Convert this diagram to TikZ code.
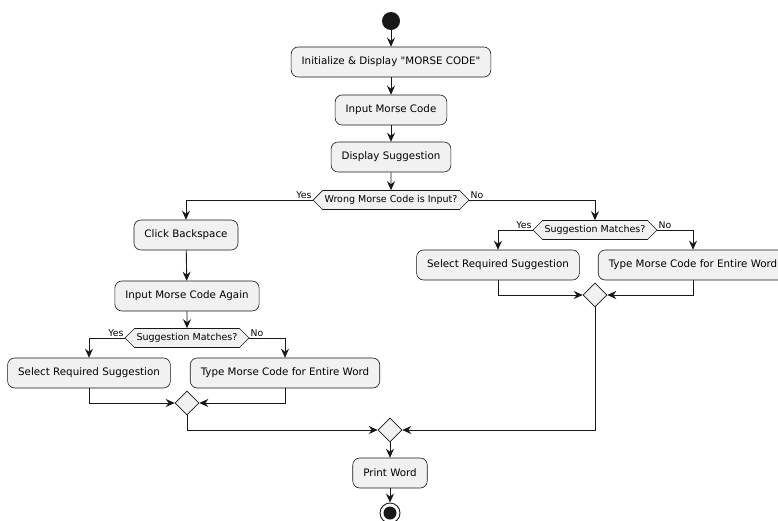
\documentclass[tikz,border=0pt]{standalone}
\usepackage{fontspec}
\setmainfont{DejaVu Sans}[Ligatures=TeXOff]
\usetikzlibrary{shapes.geometric,shapes.symbols,arrows.meta}
\definecolor{boxfill}{HTML}{F1F1F1}
\definecolor{linec}{HTML}{181818}

\begin{document}
\begin{tikzpicture}[x=1pt, y=-1pt,
	every node/.style={font=\fontsize{10.3}{12}\selectfont},
	action/.style={draw=linec, fill=boxfill, rounded corners=7pt,
		minimum height=30pt, inner xsep=10.5pt, line width=0.6pt},
	question/.style={draw=linec, fill=boxfill, signal, signal to=west and east,
		signal pointer angle=90, minimum height=19pt, inner xsep=2pt, inner ysep=1pt,
		line width=0.6pt, font=\fontsize{9.5}{11}\selectfont},
	merge/.style={draw=linec, fill=boxfill, diamond, minimum width=24pt,
		minimum height=24pt, inner sep=0pt, line width=0.6pt},
	flow/.style={draw=linec, line width=0.9pt,
		-{Stealth[length=9pt,width=8pt,inset=3pt]}},
	branch/.style={font=\fontsize{9.3}{11}\selectfont, inner sep=1pt}]
	\useasboundingbox (0,0) rectangle (778,520);
	\fill[white] (0,0) rectangle (778,520);
	
	% Start and main line
	\node[circle, fill=linec, minimum size=18pt, inner sep=0pt] (start) at (391,21) {};
	\node[action] (init) at (391,62) {Initialize \& Display "MORSE CODE"};
	\node[action] (input) at (391,110) {Input Morse Code};
	\node[action] (show) at (391,157) {Display Suggestion};
	\node[question] (wrong) at (391,200) {Wrong Morse Code is Input?};
	
	% Left branch
	\node[action] (back) at (186,235) {Click Backspace};
	\node[action] (again) at (187,296) {Input Morse Code Again};
	\node[question] (matchl) at (187,338) {Suggestion Matches?};
	\node[action] (sell) at (89,373) {Select Required Suggestion};
	\node[action] (typel) at (285,373) {Type Morse Code for Entire Word};
	\node[merge] (mergel) at (187,403) {};
	
	% Right branch
	\node[question] (matchr) at (595,230) {Suggestion Matches?};
	\node[action] (selr) at (498,265) {Select Required Suggestion};
	\node[action] (typer) at (693,265) {Type Morse Code for Entire Word};
	\node[merge] (merger) at (595,295) {};
	
	% End
	\node[merge] (join) at (390,430) {};
	\node[action] (print) at (390,473) {Print Word};
	\node[circle, draw=linec, fill=white, line width=0.9pt, minimum size=20pt, inner sep=0pt] (stop) at (390,513) {};
	\fill[linec] (stop.center) circle (6.5pt);
	
	% Connectors
	\draw[flow] (start) -- (init);
	\draw[flow] (init) -- (input);
	\draw[flow] (input) -- (show);
	\draw[flow] (show) -- (wrong);
	
	\draw[flow] (wrong.west) -| (back.north);
	\node[branch, anchor=south east] at (wrong.west) {Yes};
	\draw[flow] (wrong.east) -| (matchr.north);
	\node[branch, anchor=south west] at (wrong.east) {No};
	
	\draw[flow] (back) -- (again);
	\draw[flow] (again) -- (matchl);
	\draw[flow] (matchl.west) -| (sell.north);
	\node[branch, anchor=south east] at (matchl.west) {Yes};
	\draw[flow] (matchl.east) -| (typel.north);
	\node[branch, anchor=south west] at (matchl.east) {No};
	\draw[flow] (sell.south) |- (mergel.west);
	\draw[flow] (typel.south) |- (mergel.east);
	
	\draw[flow] (matchr.west) -| (selr.north);
	\node[branch, anchor=south east] at (matchr.west) {Yes};
	\draw[flow] (matchr.east) -| (typer.north);
	\node[branch, anchor=south west] at (matchr.east) {No};
	\draw[flow] (selr.south) |- (merger.west);
	\draw[flow] (typer.south) |- (merger.east);
	
	\draw[flow] (mergel.south) |- (join.west);
	\draw[flow] (merger.south) |- (join.east);
	\draw[flow] (join) -- (print);
	\draw[flow] (print) -- (stop);
\end{tikzpicture}
\end{document}
